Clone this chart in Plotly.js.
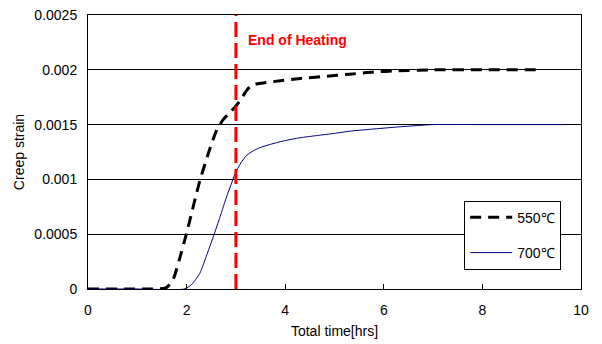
<!DOCTYPE html>
<html><head><meta charset="utf-8">
<script src="https://cdn.plot.ly/plotly-3.0.1.min.js"></script>
<style>body{margin:0}#c{width:602px;height:344px}</style>
</head><body><div id="c"></div>
<script>
const t550 = [0, 1.0, 1.58, 1.72, 1.86, 2.0, 2.15, 2.27, 2.45, 2.61, 2.75, 2.88, 3.0, 3.1, 3.2, 3.29, 3.4, 3.55, 3.9, 4.3, 4.8, 5.31, 5.8, 6.26, 7.0, 8.0, 9.15];
const s550 = [0, 0, 0.00001, 0.00008, 0.00028, 0.00051, 0.00078, 0.00099, 0.00125, 0.00145, 0.00155, 0.00161, 0.00167, 0.00173, 0.0018, 0.00185, 0.00187, 0.00188, 0.0019, 0.00192, 0.00194, 0.00196, 0.00198, 0.00199, 0.002, 0.002, 0.002];
const t700 = [0, 1.0, 1.95, 2.1, 2.27, 2.4, 2.54, 2.68, 2.81, 2.9, 2.98, 3.1, 3.22, 3.35, 3.49, 3.7, 3.96, 4.3, 4.64, 5.0, 5.31, 5.8, 6.33, 7.0, 8.0, 9.7];
const s700 = [0, 0, 0, 0.00004, 0.000145, 0.0003, 0.000475, 0.00066, 0.00084, 0.00095, 0.00105, 0.00115, 0.00122, 0.00126, 0.00129, 0.00132, 0.00135, 0.00138, 0.0014, 0.00142, 0.00144, 0.00146, 0.00148, 0.0015, 0.0015, 0.0015];
const xTicks = [0, 2, 4, 6, 8, 10];
const yTicks = [0, 0.0005, 0.001, 0.0015, 0.002, 0.0025];
const yTickText = ['0', '0.0005', '0.001', '0.0015', '0.002', '0.0025'];
const heatEnd = 3;
const font = {family: 'Liberation Sans, Arial, sans-serif', size: 14, color: '#000'};
const data = [
  {x: t550, y: s550, mode: 'lines', name: '550℃', legendgroup: 'a', line: {color: '#000', width: 3, dash: '11px,7px', shape: 'spline', smoothing: 0.6}},
  {x: t700, y: s700, mode: 'lines', name: '700℃', legendgroup: 'b', line: {color: '#000080', width: 1, shape: 'spline', smoothing: 0.6}}
];
const layout = {
  width: 602, height: 344,
  margin: {l: 88, r: 21, t: 15, b: 55},
  paper_bgcolor: '#fff', plot_bgcolor: '#fff',
  font: font,
  showlegend: true,
  legend: {x: 0.763, y: 0.322, xanchor: 'left', yanchor: 'top', bgcolor: '#fff', bordercolor: '#000', borderwidth: 1, font: font,
    traceorder: 'grouped', tracegroupgap: 14, itemwidth: 42},
  xaxis: {range: [0, 10], tickvals: xTicks, ticks: 'inside', ticklen: 5, tickcolor: '#000', showgrid: false, zeroline: false,
    showline: true, linecolor: '#000', linewidth: 1, mirror: true, tickfont: font, ticklabelstandoff: 8,
    title: {text: 'Total time[hrs]', font: font, standoff: 9}},
  yaxis: {range: [0, 0.0025], tickvals: yTicks, ticktext: yTickText, ticks: 'outside', ticklen: 0, showgrid: true, gridcolor: '#000', gridwidth: 1,
    zeroline: false, showline: true, linecolor: '#000', linewidth: 1, mirror: true, tickfont: font, ticklabelstandoff: 7,
    title: {text: 'Creep strain', font: font, standoff: 6}},
  shapes: [{type: 'line', xref: 'x', yref: 'paper', x0: heatEnd, x1: heatEnd, y0: 0, y1: 1, line: {color: '#ff0000', width: 3, dash: '15px,6px'}}],
  annotations: [{xref: 'x', yref: 'paper', x: heatEnd, y: 1, xanchor: 'left', yanchor: 'top', xshift: 10, yshift: -15, showarrow: false,
    text: '<b>End of Heating</b>', font: {family: 'Liberation Sans, Arial, sans-serif', size: 14, color: '#ff0000'}}]
};
Plotly.newPlot('c', data, layout, {displayModeBar: false, staticPlot: true});
</script></body></html>
